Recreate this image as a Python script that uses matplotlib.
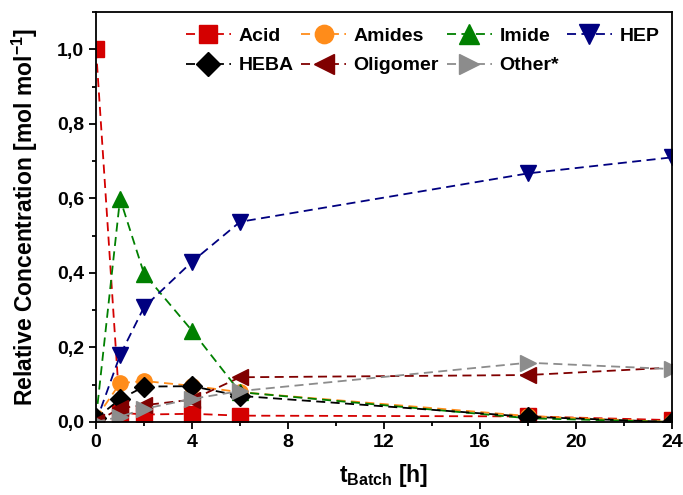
import numpy as np
import matplotlib
matplotlib.use("Agg")
import matplotlib.pyplot as plt
from matplotlib.ticker import MultipleLocator, FuncFormatter

plt.rcParams['font.family'] = ['Liberation Sans', 'DejaVu Sans']
plt.rcParams['font.weight'] = 'bold'
plt.rcParams['mathtext.fontset'] = 'custom'
plt.rcParams['mathtext.rm'] = 'Liberation Sans:bold'
plt.rcParams['mathtext.bf'] = 'Liberation Sans:bold'
plt.rcParams['mathtext.it'] = 'Liberation Sans:bold'

# sampling times [h]
t = [0, 1, 2, 4, 6, 18, 24]

acid = [1.0, 0.025, 0.02, 0.022, 0.017, 0.015, 0.005]
amides = [0.01, 0.104, 0.11, 0.097, 0.08, 0.016, 0.0]
imide = [0.01, 0.599, 0.398, 0.245, 0.08, 0.01, 0.0]
hep = [0.0, 0.179, 0.308, 0.43, 0.537, 0.667, 0.71]
heba = [0.01, 0.061, 0.095, 0.096, 0.07, 0.014, 0.0]
oligomer = [0.0, 0.037, 0.045, 0.06, 0.12, 0.126, 0.146]
other = [0.0, 0.014, 0.035, 0.062, 0.083, 0.159, 0.142]

fig = plt.figure(figsize=(6.83, 4.95), dpi=100)
ax = fig.add_axes([0.1406, 0.1475, 0.8434, 0.8283])

ms = 11
lw = 1.3
dash = (0, (5, 3))

l_acid, = ax.plot(t, acid, color='#d40000', ls=dash, lw=lw, marker='s', ms=ms, label='Acid')
l_amides, = ax.plot(t, amides, color='#ff8c1a', ls=dash, lw=lw, marker='o', ms=ms, label='Amides')
l_imide, = ax.plot(t, imide, color='#008000', ls=dash, lw=lw, marker='^', ms=ms + 1, label='Imide')
l_hep, = ax.plot(t, hep, color='#000080', ls=dash, lw=lw, marker='v', ms=ms + 1, label='HEP')
l_heba, = ax.plot(t, heba, color='black', ls=dash, lw=lw, marker='D', ms=ms - 1, label='HEBA')
l_olig, = ax.plot(t, oligomer, color='#800000', ls=dash, lw=lw, marker='<', ms=ms + 1, label='Oligomer')
l_other, = ax.plot(t, other, color='#8c8c8c', ls=dash, lw=lw, marker='>', ms=ms + 1, label='Other*')

ax.set_xlim(0, 24)
ax.set_ylim(0, 1.1)
ax.xaxis.set_major_locator(MultipleLocator(4))
ax.xaxis.set_minor_locator(MultipleLocator(2))
ax.yaxis.set_major_locator(MultipleLocator(0.2))
ax.yaxis.set_minor_locator(MultipleLocator(0.1))
ax.yaxis.set_major_formatter(FuncFormatter(lambda v, p: '{:.1f}'.format(v).replace('.', ',')))
ax.tick_params(which='major', direction='out', length=5, width=1.3, labelsize=14)
ax.tick_params(which='minor', direction='out', length=3, width=1.3)
for s in ax.spines.values():
    s.set_linewidth(1.3)

ax.set_xlabel(r'$\mathbf{t_{Batch}}$ [h]', fontsize=16.5, fontweight='bold', labelpad=8)
ax.set_ylabel('Relative Concentration [mol mol$^{\\mathbf{-1}}$]', fontsize=16.5, fontweight='bold', labelpad=12)

handles = [l_acid, l_heba, l_amides, l_olig, l_imide, l_other, l_hep]
ax.legend(handles=handles, ncol=4, loc='upper right', bbox_to_anchor=(1.008, 1.005),
          frameon=False, fontsize=14, handlelength=2.3, columnspacing=0.4,
          handletextpad=0.4, labelspacing=0.6, markerscale=1.2)

fig.savefig('out.png', dpi=100)
